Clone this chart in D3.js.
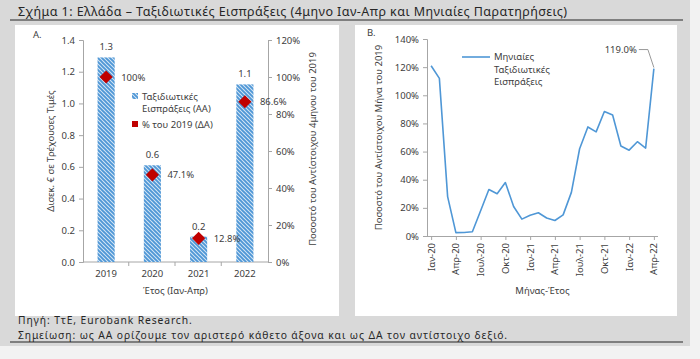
<!DOCTYPE html>
<html>
<head>
<meta charset="utf-8">
<script src="https://cdn.jsdelivr.net/npm/d3@7"></script>
<style>
  body { margin: 0; background: #f2f2f2; }
  text { font-family: "Noto Sans", sans-serif; fill: #404040; }
</style>
</head>
<body>
<div id="chart"></div>
<script>
// Panel A: 4-month Jan-Apr travel receipts
const years = ["2019", "2020", "2021", "2022"];
const receipts = [1.29, 0.61, 0.16, 1.12];
const pctOf2019 = [100, 47.1, 12.8, 86.6];
const leftTicks = [0, 0.2, 0.4, 0.6, 0.8, 1.0, 1.2, 1.4];
const rightTicks = [0, 20, 40, 60, 80, 100, 120];

// Panel B: monthly receipts as % of same month of 2019
const months = ["Ιαν-20", "Φεβ-20", "Μαρ-20", "Απρ-20", "Μαϊ-20", "Ιουν-20", "Ιουλ-20", "Αυγ-20", "Σεπ-20", "Οκτ-20", "Νοε-20", "Δεκ-20",
  "Ιαν-21", "Φεβ-21", "Μαρ-21", "Απρ-21", "Μαϊ-21", "Ιουν-21", "Ιουλ-21", "Αυγ-21", "Σεπ-21", "Οκτ-21", "Νοε-21", "Δεκ-21",
  "Ιαν-22", "Φεβ-22", "Μαρ-22", "Απρ-22"];
const monthly = [121, 112, 28, 2.4, 2.5, 3, 18, 33, 30, 38, 21, 12,
  14.8, 16.5, 12.8, 11, 15, 31, 62, 77.5, 74, 88.5, 86, 64,
  61, 67, 62.5, 119];
const monthTicks = ["Ιαν-20", "Απρ-20", "Ιουλ-20", "Οκτ-20", "Ιαν-21", "Απρ-21", "Ιουλ-21", "Οκτ-21", "Ιαν-22", "Απρ-22"];
const pctTicks = [0, 20, 40, 60, 80, 100, 120, 140];

const W = 700, H = 359;
const blue = "#4f97d6";
const red = "#c00000";
const axisCol = "#a6a6a6";

const svg = d3.select("#chart").append("svg")
  .attr("width", W)
  .attr("height", H);

// hatch pattern for bars
const pat = svg.append("defs").append("pattern")
  .attr("id", "hatch")
  .attr("patternUnits", "userSpaceOnUse")
  .attr("width", 4)
  .attr("height", 4);
pat.append("rect").attr("width", 4).attr("height", 4).attr("fill", "#d6e7f6");
pat.append("path")
  .attr("d", "M-1,-1 L5,5 M-1,3 L1,5 M3,-1 L5,1")
  .attr("stroke", blue)
  .attr("stroke-width", 1.9);

// backgrounds
svg.append("rect").attr("width", 690).attr("height", 346).attr("fill", "#d9d9d9");
svg.append("rect").attr("x", 15).attr("y", 25).attr("width", 324).attr("height", 291).attr("fill", "#fff");
svg.append("rect").attr("x", 355).attr("y", 25).attr("width", 322).attr("height", 291).attr("fill", "#fff");

// title + footer
svg.append("text").attr("x", 18).attr("y", 16)
  .style("font-size", "12.5px").style("letter-spacing", "0.45px").style("fill", "#262626")
  .text("Σχήμα 1: Ελλάδα – Ταξιδιωτικές Εισπράξεις (4μηνο Ιαν-Απρ και Μηνιαίες Παρατηρήσεις)");
svg.append("line").attr("x1", 10).attr("x2", 683).attr("y1", 20).attr("y2", 20)
  .attr("stroke", "#262626").attr("stroke-width", 1.2);
svg.append("text").attr("x", 18).attr("y", 324)
  .style("font-size", "10.3px").style("letter-spacing", "0.9px").style("fill", "#262626")
  .text("Πηγή: ΤτΕ, Eurobank Research.");
svg.append("text").attr("x", 18).attr("y", 338.5)
  .style("font-size", "10.3px").style("letter-spacing", "0.9px").style("fill", "#262626")
  .text("Σημείωση: ως ΑΑ ορίζουμε τον αριστερό κάθετο άξονα και ως ΔΑ τον αντίστοιχο δεξιό.");
svg.append("line").attr("x1", 10).attr("x2", 683).attr("y1", 342).attr("y2", 342)
  .attr("stroke", "#262626").attr("stroke-width", 1.2);

function styleAxis(g) {
  g.selectAll("path, line").attr("stroke", axisCol);
  g.selectAll("text").style("font-size", "9.5px").style("fill", "#404040");
}

// ---------------- Panel A ----------------
const a = { left: 83, right: 268, top: 40, bottom: 262 };

const x = d3.scaleBand().domain(years).range([a.left, a.right]).paddingInner(0.63).paddingOuter(0.315);
const yL = d3.scaleLinear().domain([0, 1.4]).range([a.bottom, a.top]);
const yR = d3.scaleLinear().domain([0, 120]).range([a.bottom, a.top]);

svg.append("text").attr("x", 33).attr("y", 38).style("font-size", "9.5px").text("A.");

svg.append("g")
  .attr("transform", `translate(${a.left},0)`)
  .call(d3.axisLeft(yL).tickValues(leftTicks).tickFormat(d3.format(".1f")).tickSize(4).tickPadding(4))
  .call(styleAxis);

svg.append("g")
  .attr("transform", `translate(${a.right},0)`)
  .call(d3.axisRight(yR).tickValues(rightTicks).tickFormat(d => d + "%").tickSize(4).tickPadding(4))
  .call(styleAxis);

// x axis: ticks at category boundaries
const xAxisA = svg.append("g").attr("transform", `translate(0,${a.bottom})`);
xAxisA.append("line").attr("x1", a.left).attr("x2", a.right).attr("stroke", axisCol);
xAxisA.selectAll("line.tk")
  .data(years.slice(1))
  .join("line")
  .attr("class", "tk")
  .attr("x1", d => x(d) - x.step() * x.paddingInner() / 2 - 0.5)
  .attr("x2", d => x(d) - x.step() * x.paddingInner() / 2 - 0.5)
  .attr("y2", 4)
  .attr("stroke", axisCol);
xAxisA.selectAll("text")
  .data(years)
  .join("text")
  .attr("x", d => x(d) + x.bandwidth() / 2)
  .attr("y", 15)
  .attr("text-anchor", "middle")
  .style("font-size", "9.5px")
  .text(d => d);

svg.append("text")
  .attr("x", (a.left + a.right) / 2).attr("y", 294)
  .attr("text-anchor", "middle").style("font-size", "9.5px")
  .text("Έτος (Ιαν-Απρ)");

svg.append("text")
  .attr("transform", `translate(54,${(a.top + a.bottom) / 2}) rotate(-90)`)
  .attr("text-anchor", "middle").style("font-size", "9.5px")
  .text("Δισεκ. € σε Τρέχουσες Τιμές");

svg.append("text")
  .attr("transform", `translate(316,${(a.top + a.bottom) / 2 - 2}) rotate(-90)`)
  .attr("text-anchor", "middle").style("font-size", "9.5px")
  .text("Ποσοστό του Αντίστοιχου 4μηνου του 2019");

// bars
svg.selectAll("rect.bar")
  .data(receipts)
  .join("rect")
  .attr("class", "bar")
  .attr("x", (d, i) => x(years[i]))
  .attr("y", d => yL(d))
  .attr("width", x.bandwidth())
  .attr("height", d => a.bottom - yL(d))
  .attr("fill", "url(#hatch)");

svg.selectAll("text.barlbl")
  .data(receipts)
  .join("text")
  .attr("class", "barlbl")
  .attr("x", (d, i) => x(years[i]) + x.bandwidth() / 2)
  .attr("y", d => yL(d) - 7)
  .attr("text-anchor", "middle")
  .style("font-size", "9.5px")
  .text(d => d3.format(".1f")(d));

// diamonds on right axis
svg.selectAll("path.dia")
  .data(pctOf2019)
  .join("path")
  .attr("class", "dia")
  .attr("transform", (d, i) => `translate(${x(years[i]) + x.bandwidth() / 2},${yR(d)})`)
  .attr("d", d3.symbol(d3.symbolDiamond2, 110))
  .attr("fill", red);

svg.selectAll("text.pctlbl")
  .data(pctOf2019)
  .join("text")
  .attr("class", "pctlbl")
  .attr("x", (d, i) => x(years[i]) + x.bandwidth() / 2 + 15)
  .attr("y", d => yR(d) + 3.5)
  .style("font-size", "9.5px")
  .text(d => d === 100 ? "100%" : d3.format(".1f")(d) + "%");

// legend A
svg.append("rect").attr("x", 132).attr("y", 93).attr("width", 6).attr("height", 6).attr("fill", "url(#hatch)");
svg.append("text").attr("x", 142).attr("y", 100).style("font-size", "9.5px").text("Ταξιδιωτικές");
svg.append("text").attr("x", 142).attr("y", 112).style("font-size", "9.5px").text("Εισπράξεις (ΑΑ)");
svg.append("rect").attr("x", 132).attr("y", 121).attr("width", 6).attr("height", 6).attr("fill", red);
svg.append("text").attr("x", 142).attr("y", 128).style("font-size", "9.5px").text("% του 2019 (ΔΑ)");

// ---------------- Panel B ----------------
const b = { left: 427, right: 658, top: 39, bottom: 236 };

const xb = d3.scalePoint().domain(months).range([b.left, b.right]).padding(0.5);
const yb = d3.scaleLinear().domain([0, 140]).range([b.bottom, b.top]);

svg.append("text").attr("x", 367).attr("y", 36).style("font-size", "9.5px").text("B.");

svg.append("g")
  .attr("transform", `translate(${b.left},0)`)
  .call(d3.axisLeft(yb).tickValues(pctTicks).tickFormat(d => d + "%").tickSize(4).tickPadding(4))
  .call(styleAxis);

const xAxisB = svg.append("g")
  .attr("transform", `translate(0,${b.bottom})`)
  .call(d3.axisBottom(xb).tickValues(monthTicks).tickSize(4).tickPadding(4))
  .call(styleAxis);
xAxisB.select(".domain").attr("d", `M${b.left},0.5H${b.right}`);
xAxisB.selectAll("text")
  .attr("transform", "rotate(-90)")
  .attr("text-anchor", "end")
  .attr("dy", "0.32em")
  .attr("x", -7)
  .attr("y", 0);

svg.append("text")
  .attr("x", (b.left + b.right) / 2).attr("y", 294)
  .attr("text-anchor", "middle").style("font-size", "9.5px")
  .text("Μήνας-Έτος");

svg.append("text")
  .attr("transform", `translate(382,${(b.top + b.bottom) / 2}) rotate(-90)`)
  .attr("text-anchor", "middle").style("font-size", "9.5px")
  .text("Ποσοστό του Αντίστοιχου Μήνα του 2019");

const line = d3.line()
  .x((d, i) => xb(months[i]))
  .y(d => yb(d));

svg.append("path")
  .datum(monthly)
  .attr("d", line)
  .attr("fill", "none")
  .attr("stroke", blue)
  .attr("stroke-width", 1.6)
  .attr("stroke-linejoin", "round");

// last-point annotation
const lastX = xb(months[months.length - 1]);
const lastY = yb(monthly[monthly.length - 1]);
svg.append("path")
  .attr("d", `M${lastX},${lastY - 1} L${lastX - 6},${lastY - 19} L${lastX - 15},${lastY - 19}`)
  .attr("fill", "none")
  .attr("stroke", "#7f7f7f")
  .attr("stroke-width", 0.8);
svg.append("text")
  .attr("x", lastX - 17).attr("y", lastY - 16)
  .attr("text-anchor", "end").style("font-size", "9.5px")
  .text(d3.format(".1f")(monthly[monthly.length - 1]) + "%");

// legend B
svg.append("line").attr("x1", 462).attr("x2", 490).attr("y1", 57).attr("y2", 57)
  .attr("stroke", blue).attr("stroke-width", 1.6);
svg.append("text").attr("x", 494).attr("y", 60).style("font-size", "9.5px").text("Μηνιαίες");
svg.append("text").attr("x", 494).attr("y", 73).style("font-size", "9.5px").text("Ταξιδιωτικές");
svg.append("text").attr("x", 494).attr("y", 85).style("font-size", "9.5px").text("Εισπράξεις");
</script>
</body>
</html>
